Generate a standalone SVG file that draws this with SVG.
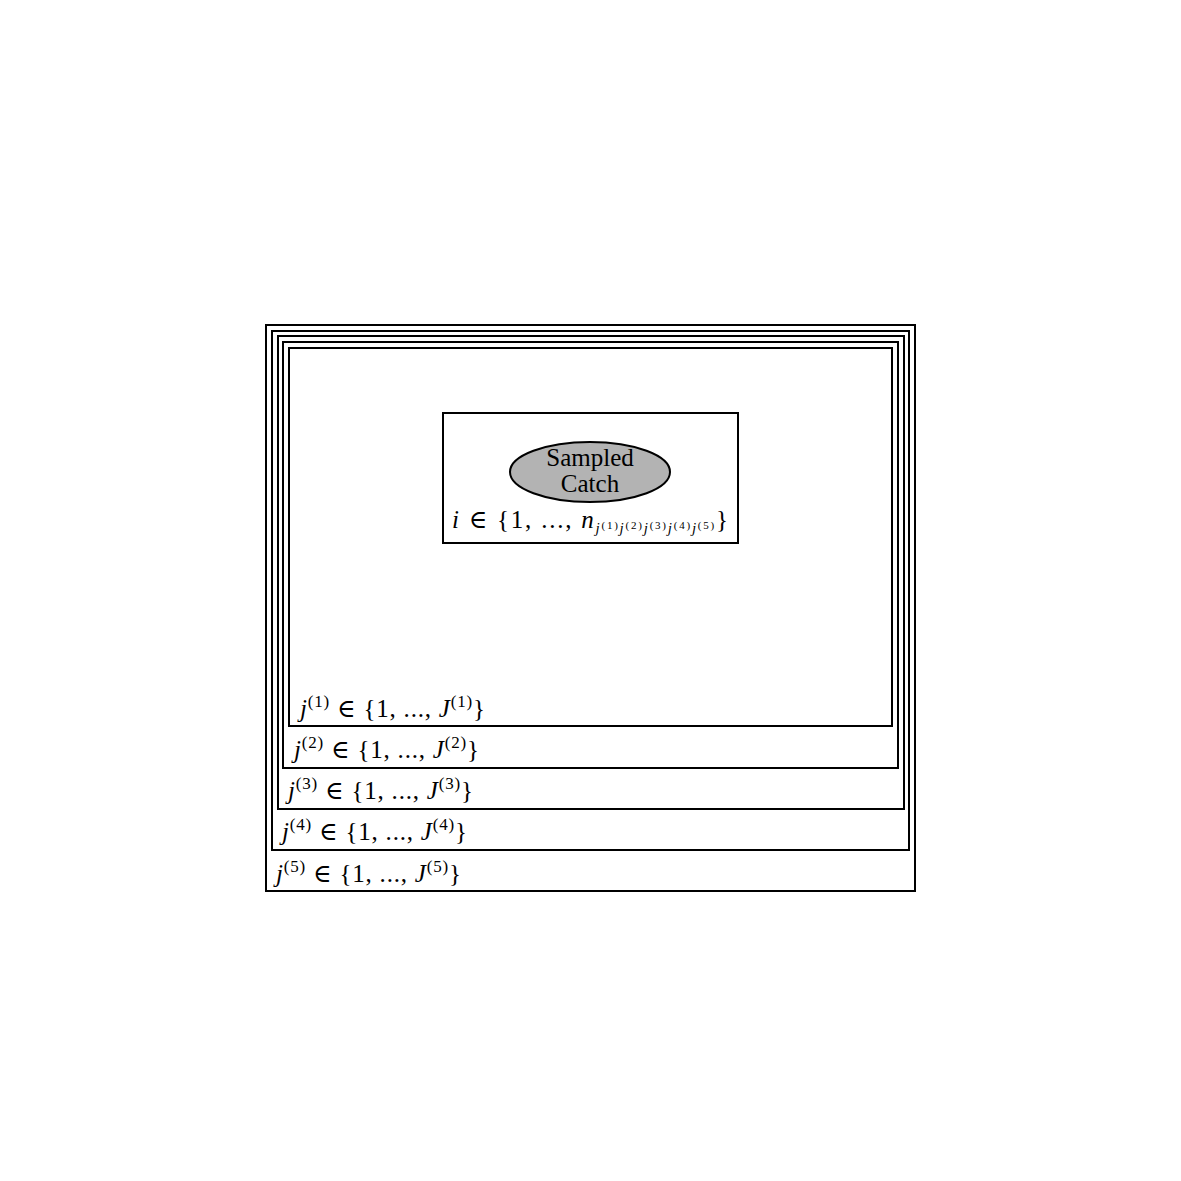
<svg xmlns="http://www.w3.org/2000/svg" width="1181" height="1181" viewBox="0 0 1181 1181">
<style>
.plate{fill:none;stroke:#000;stroke-width:2}
.t{font-family:"Liberation Serif","DejaVu Serif",serif;font-size:25px;fill:#000}
.it{font-style:italic}
.sup{font-size:17px}
.sub{font-size:15px}
.ss{font-size:11px}
</style>
<rect width="1181" height="1181" fill="#fff"/>
<g id="plate5"><rect class="plate" x="266" y="325" width="649" height="566"/>
<text class="t" x="276" y="882" textLength="185" lengthAdjust="spacing"><tspan class="it">j</tspan><tspan class="sup" dy="-10">(5)</tspan><tspan dy="10"> ∈ {1, ..., </tspan><tspan class="it">J</tspan><tspan class="sup" dy="-10">(5)</tspan><tspan dy="10">}</tspan></text></g>
<g id="plate4"><rect class="plate" x="272" y="331" width="637" height="519"/>
<text class="t" x="282" y="840" textLength="185" lengthAdjust="spacing"><tspan class="it">j</tspan><tspan class="sup" dy="-10">(4)</tspan><tspan dy="10"> ∈ {1, ..., </tspan><tspan class="it">J</tspan><tspan class="sup" dy="-10">(4)</tspan><tspan dy="10">}</tspan></text></g>
<g id="plate3"><rect class="plate" x="278" y="336" width="626" height="473"/>
<text class="t" x="288" y="799" textLength="185" lengthAdjust="spacing"><tspan class="it">j</tspan><tspan class="sup" dy="-10">(3)</tspan><tspan dy="10"> ∈ {1, ..., </tspan><tspan class="it">J</tspan><tspan class="sup" dy="-10">(3)</tspan><tspan dy="10">}</tspan></text></g>
<g id="plate2"><rect class="plate" x="283" y="342" width="615" height="426"/>
<text class="t" x="294" y="758" textLength="185" lengthAdjust="spacing"><tspan class="it">j</tspan><tspan class="sup" dy="-10">(2)</tspan><tspan dy="10"> ∈ {1, ..., </tspan><tspan class="it">J</tspan><tspan class="sup" dy="-10">(2)</tspan><tspan dy="10">}</tspan></text></g>
<g id="plate1"><rect class="plate" x="289" y="348" width="603" height="378"/>
<text class="t" x="300" y="717" textLength="185" lengthAdjust="spacing"><tspan class="it">j</tspan><tspan class="sup" dy="-10">(1)</tspan><tspan dy="10"> ∈ {1, ..., </tspan><tspan class="it">J</tspan><tspan class="sup" dy="-10">(1)</tspan><tspan dy="10">}</tspan></text></g>
<g id="plate_i"><rect class="plate" x="443" y="413" width="295" height="130"/>
<text class="t" x="452" y="528" textLength="276" lengthAdjust="spacing"><tspan class="it">i</tspan> ∈ {1, ..., <tspan class="it">n</tspan><tspan class="sub it" dy="5">j</tspan><tspan class="ss" dy="-4">(1)</tspan><tspan class="sub it" dy="4">j</tspan><tspan class="ss" dy="-4">(2)</tspan><tspan class="sub it" dy="4">j</tspan><tspan class="ss" dy="-4">(3)</tspan><tspan class="sub it" dy="4">j</tspan><tspan class="ss" dy="-4">(4)</tspan><tspan class="sub it" dy="4">j</tspan><tspan class="ss" dy="-4">(5)</tspan><tspan dy="-1">}</tspan></text></g>
<g id="sampled_catch"><ellipse cx="590" cy="472" rx="80" ry="30" fill="#b3b3b3" stroke="#000" stroke-width="2"/>
<text class="t" x="590" y="466" text-anchor="middle" font-size="25">Sampled</text>
<text class="t" x="590" y="492" text-anchor="middle" font-size="25">Catch</text></g>
<g id="connectors"></g>
</svg>
